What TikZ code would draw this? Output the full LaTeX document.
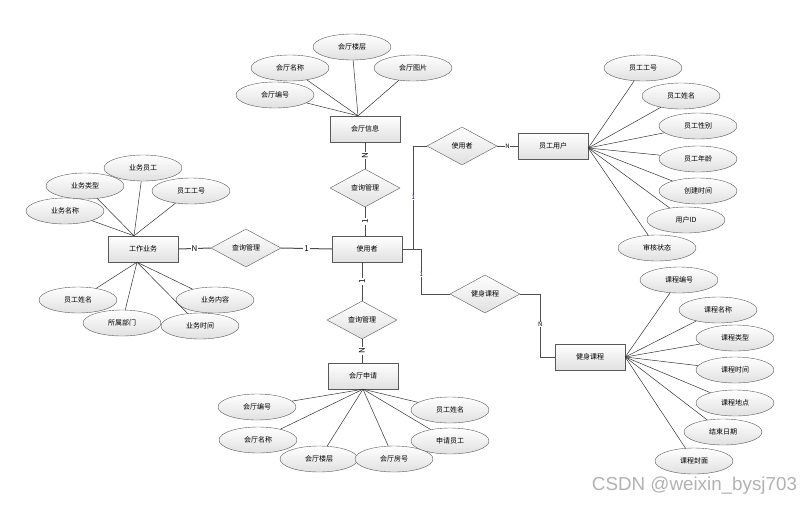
\documentclass[tikz,border=0pt]{standalone}
\usepackage{fontspec}
\setmainfont{Noto Sans CJK SC}
\newfontfamily\markfont{Liberation Sans}
\usepackage{tikz}
\usetikzlibrary{shapes.geometric}

\begin{document}
\begin{tikzpicture}[x=1pt,y=-1pt,thin,font=\fontsize{7}{8}\selectfont]
      \tikzstyle{attr} = [ellipse, draw=black!65, minimum width=78pt, minimum height=26pt, inner sep=0pt,
         top color=white, bottom color=black!12]
      \tikzstyle{entity} = [rectangle, draw=black!65, minimum width=70pt, minimum height=26pt, inner sep=0pt,
         top color=white, bottom color=black!12]
      \tikzstyle{relation} = [diamond, draw=black!65, aspect=1.85, minimum width=70pt, minimum height=38pt,
         inner sep=0pt, top color=white, bottom color=black!12]
      \tikzstyle{line} = [draw=black!80, line width=0.5pt]
      \tikzstyle{rel line} = [draw=black!70, line width=1pt]
      \tikzstyle{card} = [fill=white, inner sep=1pt, font=\fontsize{8}{8}\selectfont]
      \tikzstyle{small card} = [fill=white, inner sep=0.5pt, font=\fontsize{6}{6}\selectfont]
      \useasboundingbox (0,0) rectangle (812,504);
      %nodes
      \node[entity]   (hall)      at (365,129) {会厅信息};
      \node[attr]     (hallfloor) at (352,47)  {会厅楼层};
      \node[attr]     (hallname)  at (290,68)  {会厅名称};
      \node[attr]     (hallpic)   at (413,68)  {会厅图片};
      \node[attr]     (hallno)    at (275,95)  {会厅编号};
      \node[relation] (qhall)     at (365,188) {查询管理};
      \node[entity]   (user)      at (367,249) {使用者};
      \node[relation] (qwork)     at (246,248) {查询管理};
      \node[entity]   (work)      at (143,249) {工作业务};
      \node[relation] (qapply)    at (362,320) {查询管理};
      \node[entity]   (apply)     at (363,376) {会厅申请};
      \node[relation] (userel)    at (462,146) {使用者};
      \node[entity]   (staff)     at (553,146) {员工用户};
      \node[relation] (courserel) at (485,294) {健身课程};
      \node[entity]   (course)    at (590,357) {健身课程};

      \node[attr] (wstaff)   at (143,168) {业务员工};
      \node[attr] (wtype)    at (85,186)  {业务类型};
      \node[attr] (wno)      at (191,191) {员工工号};
      \node[attr] (wname)    at (65,211)  {业务名称};
      \node[attr] (wsname)   at (78,300)  {员工姓名};
      \node[attr] (wdept)    at (122,323) {所属部门};
      \node[attr] (wtime)    at (200,326) {业务时间};
      \node[attr] (wcontent) at (215,300) {业务内容};

      \node[attr] (sno)    at (643,68)  {员工工号};
      \node[attr] (sname)  at (681,96)  {员工姓名};
      \node[attr] (ssex)   at (698,126) {员工性别};
      \node[attr] (sage)   at (698,159) {员工年龄};
      \node[attr] (stime)  at (698,191) {创建时间};
      \node[attr] (sid)    at (686,220) {用户ID};
      \node[attr] (sstate) at (657,248) {审核状态};

      \node[attr] (ano)    at (257,407) {会厅编号};
      \node[attr] (aname)  at (258,440) {会厅名称};
      \node[attr] (afloor) at (319,459) {会厅楼层};
      \node[attr] (aroom)  at (394,459) {会厅房号};
      \node[attr] (asname) at (450,410) {员工姓名};
      \node[attr] (astaff) at (450,441) {申请员工};

      \node[attr] (cno)    at (679,280) {课程编号};
      \node[attr] (cname)  at (718,310) {课程名称};
      \node[attr] (ctype)  at (735,338) {课程类型};
      \node[attr] (ctime)  at (735,370) {课程时间};
      \node[attr] (cplace) at (735,403) {课程地点};
      \node[attr] (cend)   at (723,432) {结束日期};
      \node[attr] (ccover) at (694,461) {课程封面};

      \node[text=black!30, font=\markfont\fontsize{18.8}{19}\selectfont] (mark) at (694.5,486) {CSDN @weixin\_bysj703};

      \coordinate (halltop)  at ([xshift=-7pt]hall.north);
      \coordinate (worktop)  at ([xshift=-9pt]work.north);
      \coordinate (workbot)  at ([xshift=-6pt]work.south);
      \coordinate (staffend) at ([yshift=-2pt]staff.east);

      %lines
      \foreach \a in {hallfloor,hallname,hallpic,hallno}
         \path [line] (halltop) -- (\a);
      \foreach \a in {wstaff,wtype,wno,wname}
         \path [line] (worktop) -- (\a);
      \foreach \a in {wsname,wdept,wtime,wcontent}
         \path [line] (workbot) -- (\a);
      \foreach \a in {sno,sname,ssex,sage,stime,sid,sstate}
         \path [line] (staffend) -- (\a);
      \foreach \a in {ano,aname,afloor,aroom,asname,astaff}
         \path [line] (apply.south) -- (\a);
      \foreach \a in {cno,cname,ctype,ctime,cplace,cend,ccover}
         \path [line] (course.east) -- (\a);

      \path [rel line] (hall.south) -- node[card, rotate=90] {N} (qhall.north);
      \path [rel line] (qhall.south) -- node[card, rotate=90] {1} (qhall.south |- user.north);
      \path [rel line] (qapply.north |- user.south) -- node[card, rotate=90] {1} (qapply.north);
      \path [rel line] (qapply.south) -- node[card, rotate=90] {N} (qapply.south |- apply.north);
      \path [rel line] (work.east) -- node[card] {N} (qwork.west);
      \path [rel line] (qwork.east) -- node[card] {1} (user.west);
      \path [rel line] (user.east) -- ++(11,0) |- node[small card, pos=0.25, text=blue!70!black] {1} (userel.west);
      \path [rel line] (userel.east) -- node[small card] {N} (staff.west);
      \path [rel line] (user.east) -- ++(19,0) |- node[small card, pos=0.28, text=blue!70!black] {1} (courserel.west);
      \path [rel line] (courserel.east) -- ++(20,0) |- node[small card, pos=0.24] {N} (course.west);
    \end{tikzpicture}
\end{document}
